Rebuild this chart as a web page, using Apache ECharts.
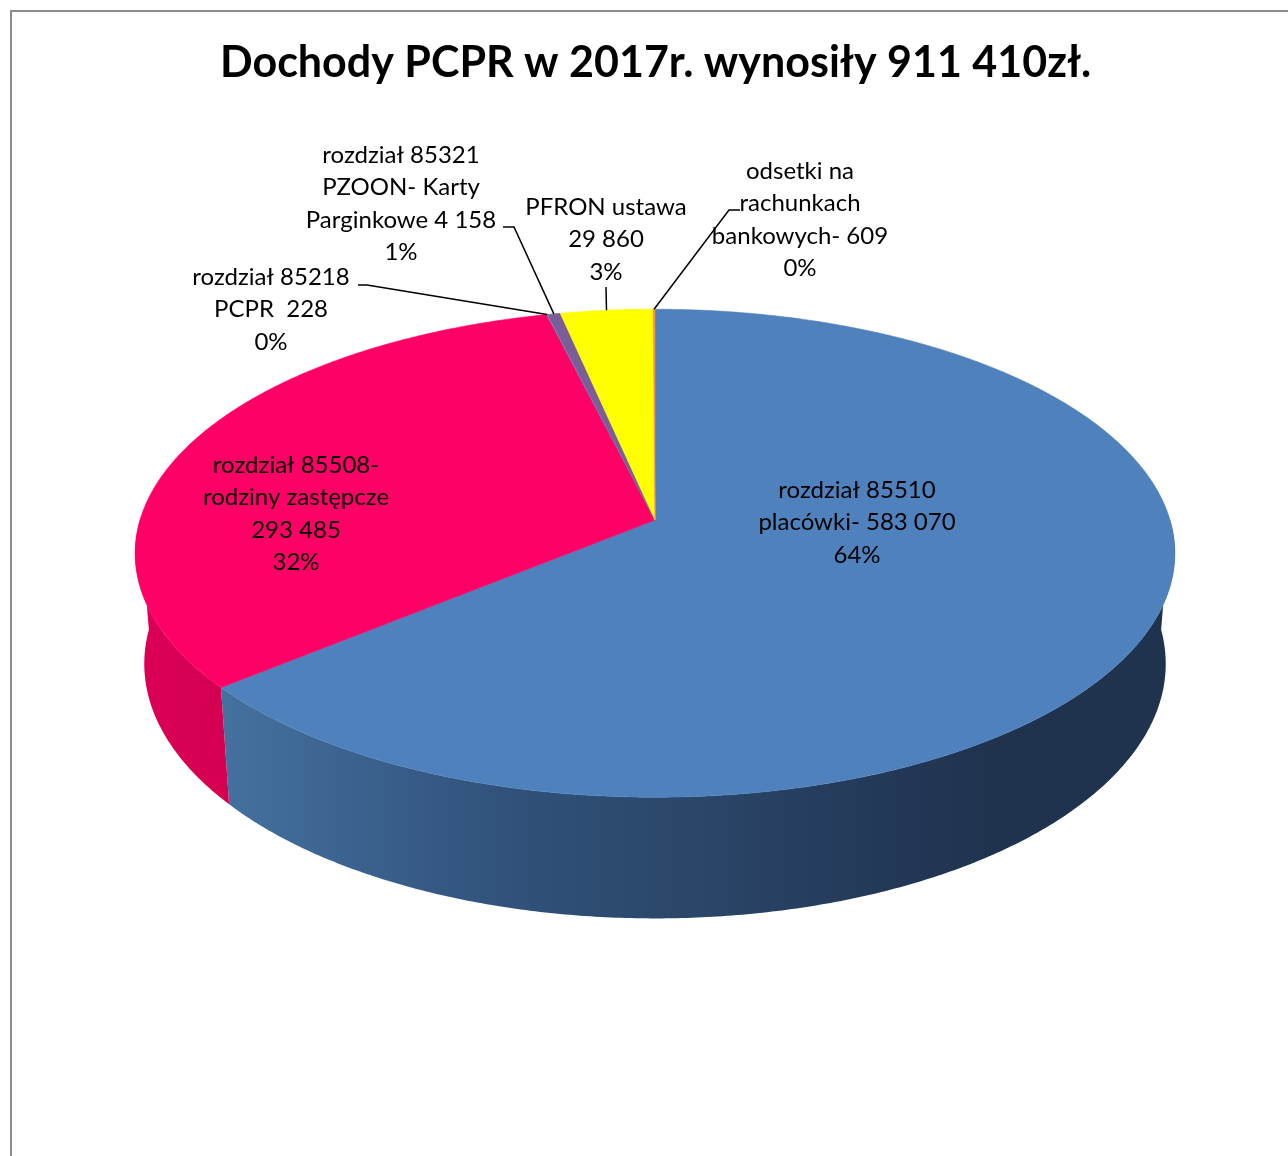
<!DOCTYPE html>
<html>
<head>
<meta charset="utf-8">
<script src="https://cdn.jsdelivr.net/npm/echarts@6/dist/echarts.min.js"></script>
<style>
    html, body { margin: 0; padding: 0; background: #fff; }
    #chart { width: 1288px; height: 1156px; }
    #frame {
        position: absolute; left: 10px; top: 10px; right: 0; bottom: 0;
        border-left: 2px solid #8c8c8c; border-top: 2px solid #8c8c8c;
        pointer-events: none;
    }
</style>
</head>
<body>
<div id="chart"></div>
<div id="frame"></div>
<script>
const titleText = 'Dochody PCPR w 2017r. wynosiły 911 410zł.';

// slices in clockwise order from 12 o'clock
const names = [
    'rozdział 85510 placówki',
    'rozdział 85508 rodziny zastępcze',
    'rozdział 85218 PCPR',
    'rozdział 85321 PZOON- Karty Parginkowe',
    'PFRON ustawa',
    'odsetki na rachunkach bankowych'
];
const values = [583070, 293485, 228, 4158, 29860, 609];
const labels = [
    'rozdział 85510\nplacówki- 583 070\n64%',
    'rozdział 85508-\nrodziny zastępcze\n293 485\n32%',
    'rozdział 85218\nPCPR  228\n0%',
    'rozdział 85321\nPZOON- Karty\nParginkowe 4 158\n1%',
    'PFRON ustawa\n29 860\n3%',
    'odsetki na\nrachunkach\nbankowych- 609\n0%'
];

const topColors = ['#4F81BD', '#FF0066', '#4BACC6', '#7B5E97', '#FFFF00', '#F79646'];

// label placement (centre x, top y) and leader elbows
const labelLayout = [
    { x: 857, y: 474, leader: null },
    { x: 296, y: 449, leader: null },
    { x: 271, y: 261, leader: [[358, 285], [367, 285]] },
    { x: 401, y: 139, leader: [[503, 227], [514, 227]] },
    { x: 606, y: 191, leader: [[606, 287]] },
    { x: 800, y: 155, leader: [[740, 210], [729, 210]] }
];

// tilted disc with a little perspective
const view = { cx: 655, cy: 520, k: 515, sinA: 0.465, cosA: 0.885, dist: 6.5, depth: 0.245 };

function project(phi, r, y) {
    const x = r * Math.sin(phi);
    const z = -r * Math.cos(phi);
    const d = y * view.sinA + z * view.cosA;
    const s = view.dist / (view.dist - d);
    return [view.cx + view.k * x * s, view.cy + view.k * (z * view.sinA - y * view.cosA) * s];
}

function arc(a0, a1, y) {
    const n = Math.max(1, Math.ceil((a1 - a0) / (Math.PI / 360)));
    const pts = [];
    for (let j = 0; j <= n; j++) {
        pts.push(project(a0 + (a1 - a0) * j / n, 1, y));
    }
    return pts;
}

const total = values.reduce((a, b) => a + b, 0);
const sliceAngles = [];
let acc = 0;
values.forEach(v => {
    sliceAngles.push([acc / total * 2 * Math.PI, (acc + v) / total * 2 * Math.PI]);
    acc += v;
});

const wallFills = [
    new echarts.graphic.LinearGradient(135, 0, 1175, 0, [
        { offset: 0, color: '#4A78AE' },
        { offset: 0.09, color: '#44709F' },
        { offset: 0.35, color: '#31527B' },
        { offset: 0.54, color: '#2A4668' },
        { offset: 0.73, color: '#233857' },
        { offset: 0.83, color: '#1F334E' },
        { offset: 1, color: '#1F334E' }
    ], true),
    new echarts.graphic.LinearGradient(135, 0, 235, 0, [
        { offset: 0, color: '#DA0056' },
        { offset: 1, color: '#D50052' }
    ], true),
    '#3A8CA3', '#5E4778', '#CCCC00', '#C87A38'
];

function renderWall(params, api) {
    const i = params.dataIndex;
    const lo = Math.max(sliceAngles[i][0], Math.PI / 2);
    const hi = Math.min(sliceAngles[i][1], 3 * Math.PI / 2);
    if (hi <= lo) return null;
    const pts = arc(lo, hi, 0).concat(arc(lo, hi, -view.depth).reverse());
    return {
        type: 'polygon',
        shape: { points: pts },
        style: { fill: wallFills[i], stroke: null }
    };
}

function renderTop(params, api) {
    const i = params.dataIndex;
    const pts = [[view.cx, view.cy]].concat(arc(sliceAngles[i][0], sliceAngles[i][1], 0));
    return {
        type: 'polygon',
        shape: { points: pts },
        style: { fill: topColors[i], stroke: topColors[i], lineWidth: 0.6 }
    };
}

function renderLabel(params, api) {
    const i = params.dataIndex;
    const lay = labelLayout[i];
    const children = [{
        type: 'text',
        style: {
            text: labels[i],
            x: lay.x,
            y: lay.y,
            align: 'center',
            verticalAlign: 'top',
            fontFamily: 'Lato',
            fontSize: 24,
            lineHeight: 32.5,
            fill: '#000'
        }
    }];
    if (lay.leader) {
        const mid = (sliceAngles[i][0] + sliceAngles[i][1]) / 2;
        children.push({
            type: 'polyline',
            shape: { points: lay.leader.concat([project(mid, 1, 0)]) },
            style: { stroke: '#000', lineWidth: 1.5, fill: null }
        });
    }
    return { type: 'group', children: children };
}

const seriesData = values.map((v, i) => ({ name: names[i], value: v }));

const myChart = echarts.init(document.getElementById('chart'));

const option = {
    animation: false,
    backgroundColor: '#fff',
    title: {
        text: titleText,
        left: 220,
        top: 42,
        padding: 0,
        textStyle: {
            fontFamily: 'Lato',
            fontSize: 43,
            fontWeight: 'bold',
            color: '#000'
        }
    },
    series: [
        {
            type: 'custom',
            coordinateSystem: 'none',
            renderItem: renderWall,
            data: seriesData,
            z: 1,
            silent: true
        },
        {
            type: 'custom',
            coordinateSystem: 'none',
            renderItem: renderTop,
            data: seriesData,
            z: 2,
            silent: true
        },
        {
            type: 'custom',
            coordinateSystem: 'none',
            renderItem: renderLabel,
            data: seriesData,
            z: 3,
            silent: true
        }
    ]
};

myChart.setOption(option);
</script>
</body>
</html>
